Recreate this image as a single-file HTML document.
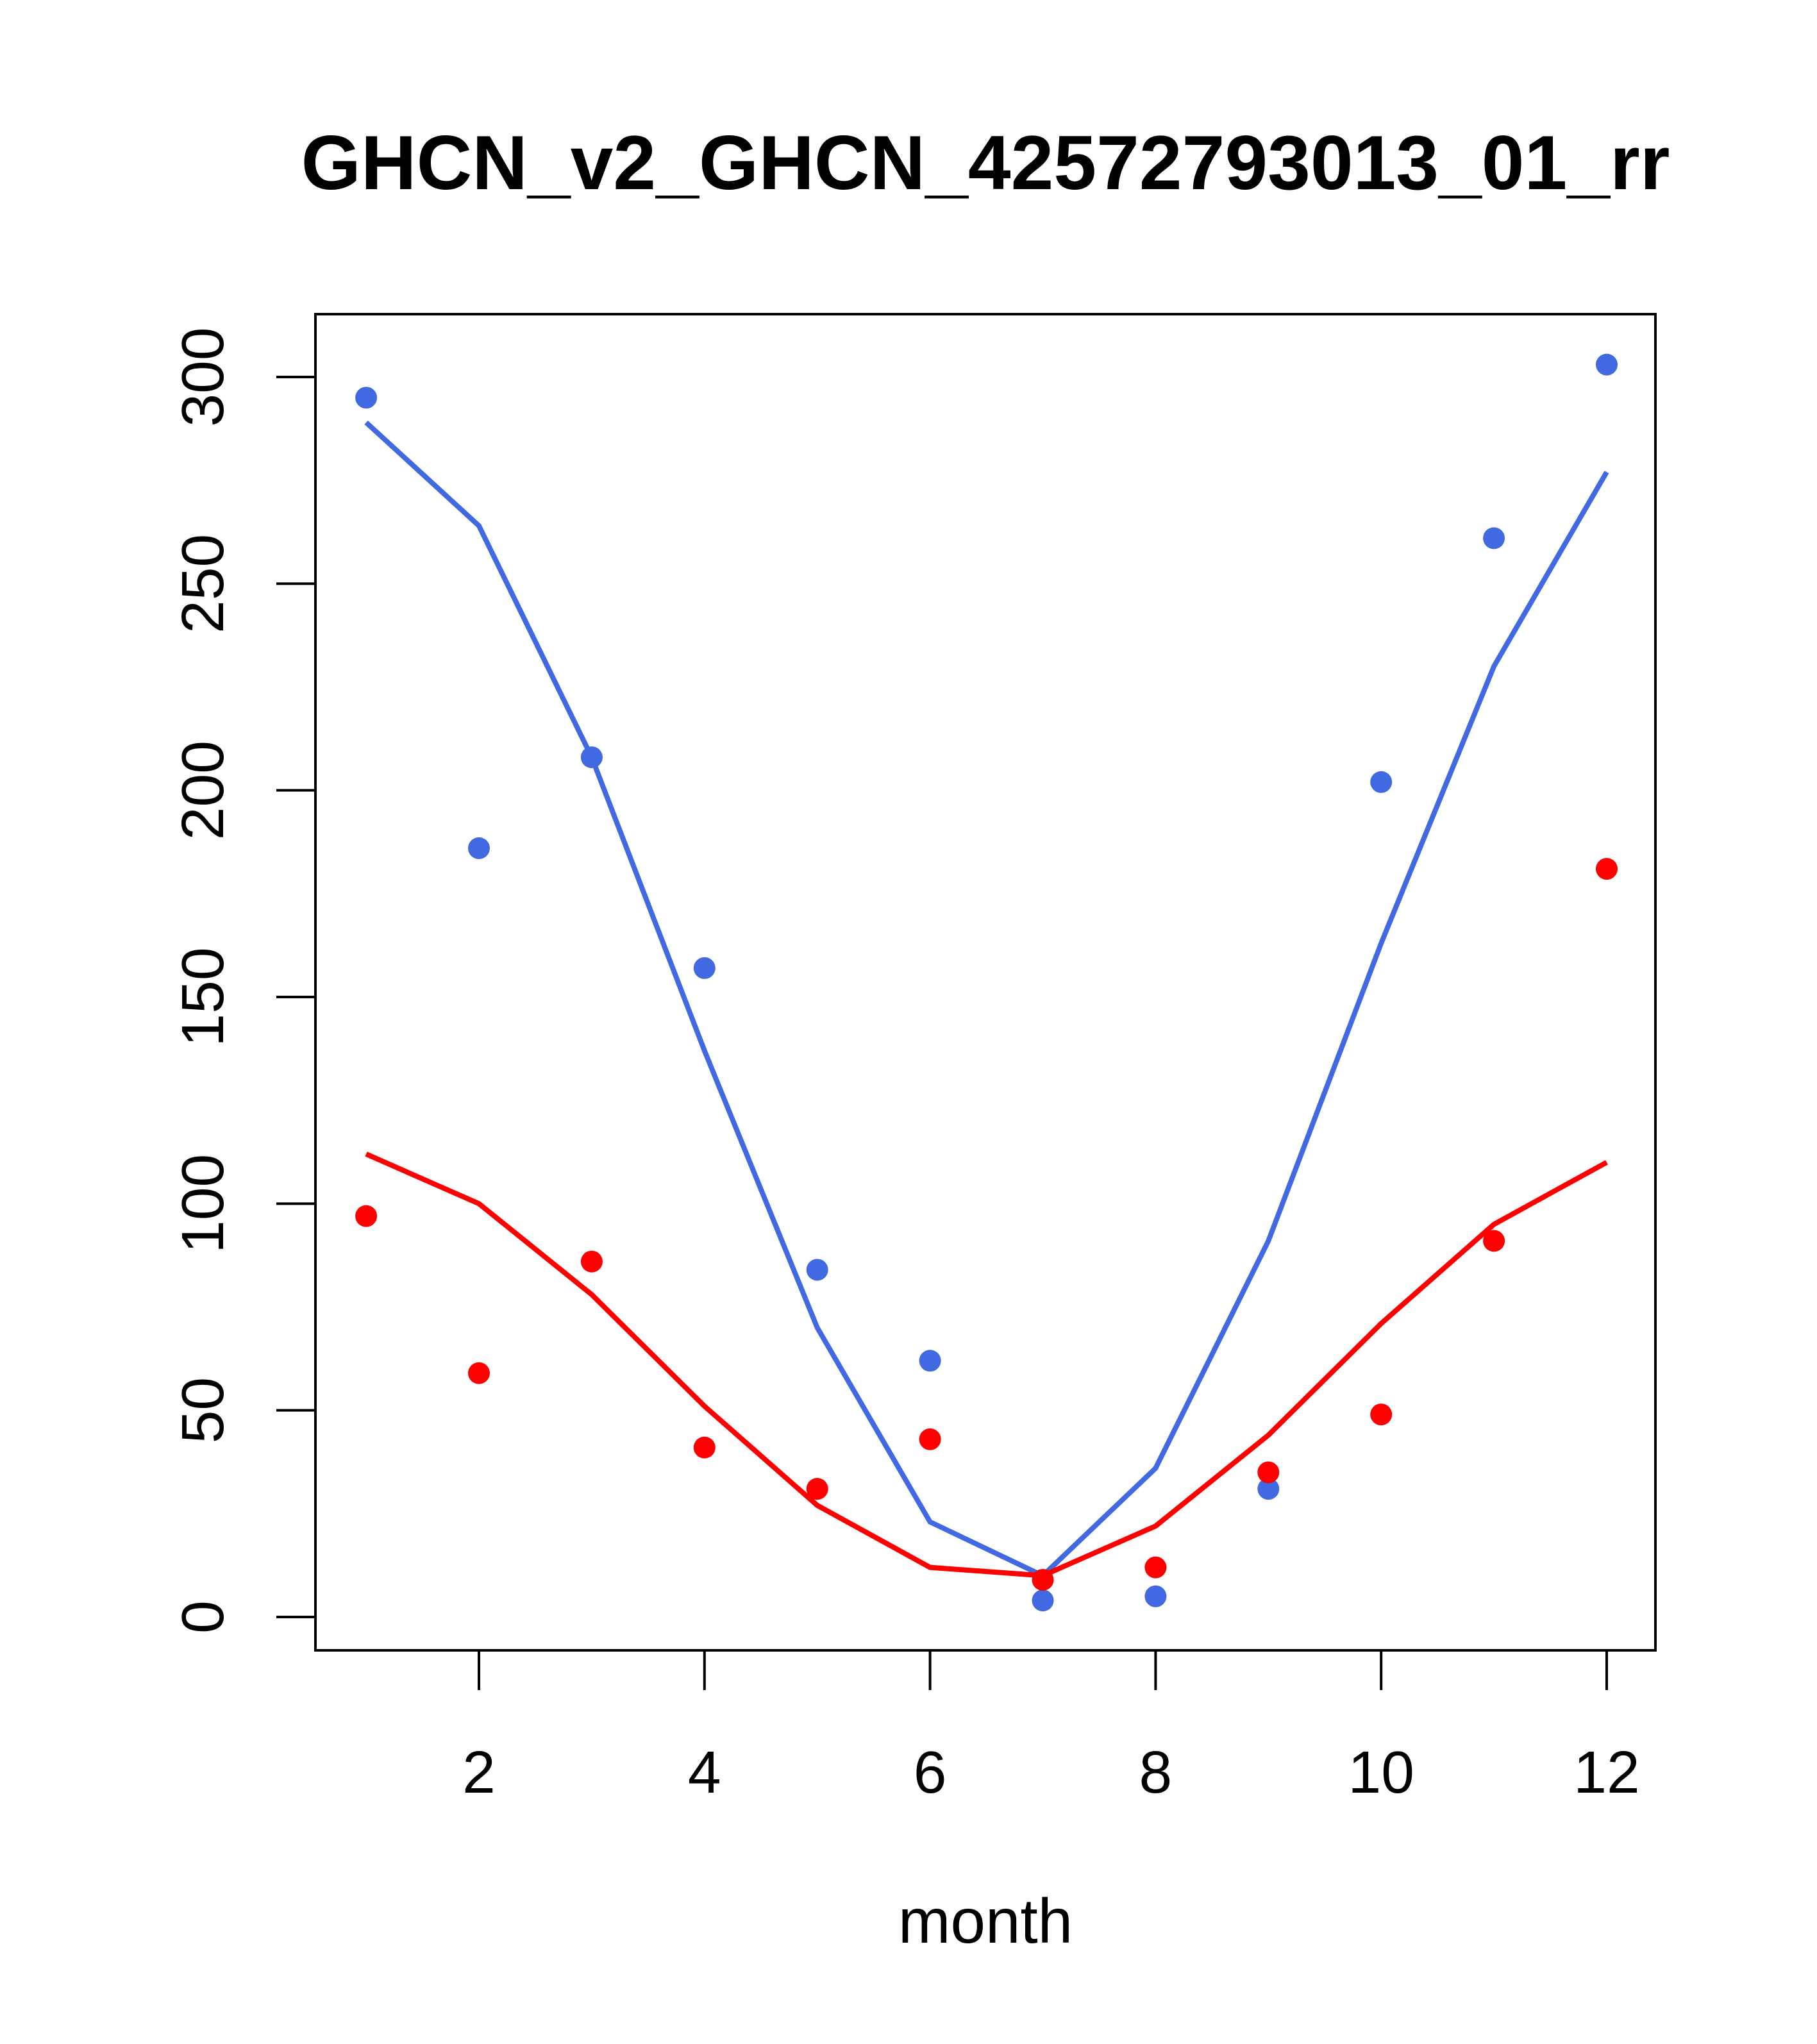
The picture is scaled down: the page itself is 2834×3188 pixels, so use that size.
<!DOCTYPE html>
<html><head><meta charset="utf-8"><style>
html,body{margin:0;padding:0;background:#fff;}
svg{display:block;font-family:"Liberation Sans",sans-serif;}
</style></head><body>
<svg id="chart" width="2834" height="3188" viewBox="0 0 2834 3188" xmlns="http://www.w3.org/2000/svg">
<rect width="2834" height="3188" fill="#fff"/>
<text x="1537" y="295" text-anchor="middle" font-size="120" font-weight="bold">GHCN_v2_GHCN_42572793013_01_rr</text>
<rect x="492" y="490" width="2090" height="2084" fill="none" stroke="#000" stroke-width="4"/>
<text x="1537" y="3030" text-anchor="middle" font-size="98">month</text>
<g id="xaxis"></g>
<g id="yaxis"></g>
<g id="series"></g>
</svg>
<script>
const months = [1,2,3,4,5,6,7,8,9,10,11,12];
const bluePoints = [295,186,208,157,84,62,4,5,31,202,261,303];
const redPoints = [97,59,86,41,31,43,9,12,35,49,91,181];
const blueLine = [289,264,208,137,70,23,10,36,91,163,230,277];
const redLine = [112,100,78,51,27,12,10,22,44,71,95,110];
const xTicks = [2,4,6,8,10,12];
const yTicks = [0,50,100,150,200,250,300];

const NS = "http://www.w3.org/2000/svg";
function xs(m){ return 747 + (m-2)*(2506-747)/10; }
function ys(v){ return 2522 - v*(2522-588)/300; }
function mk(tag, attrs, parent){
  const e = document.createElementNS(NS, tag);
  for (const k in attrs) e.setAttribute(k, attrs[k]);
  parent.appendChild(e);
  return e;
}
const xa = document.getElementById('xaxis');
const ya = document.getElementById('yaxis');
const se = document.getElementById('series');

xTicks.forEach(t => {
  const l = mk('line', {x1:xs(t), x2:xs(t), y1:2574, y2:2636, stroke:'#000','stroke-width':4}, xa);
  
  
  const tx = mk('text', {x:xs(t), y:2796, 'text-anchor':'middle', 'font-size':93}, xa);
  tx.textContent = t;
  
  
});
yTicks.forEach(t => {
  const l = mk('line', {x1:431, x2:492, y1:ys(t), y2:ys(t), stroke:'#000','stroke-width':4}, ya);
  
  
  const tx = mk('text', {x:0, y:0, 'text-anchor':'middle', 'font-size':93,
    transform:'translate(348,'+ys(t)+') rotate(-90)'}, ya);
  tx.textContent = t;
  
  
});

function drawLine(vals, color, name){
  const p = mk('polyline', {points: months.map((m,i)=>xs(m)+','+ys(vals[i])).join(' '),
    fill:'none', stroke:color, 'stroke-width':8}, se);
  
  
}
function drawPts(vals, color, name){
  months.forEach((m,i) => {
    const c = mk('circle', {cx:xs(m), cy:ys(vals[i]), r:17, fill:color}, se);
    
    
  });
}
drawLine(blueLine, '#4169E1', 'blue-line');
drawLine(redLine, '#FF0000', 'red-line');
drawPts(bluePoints, '#4169E1', 'blue-point');
drawPts(redPoints, '#FF0000', 'red-point');
</script>
</body></html>
